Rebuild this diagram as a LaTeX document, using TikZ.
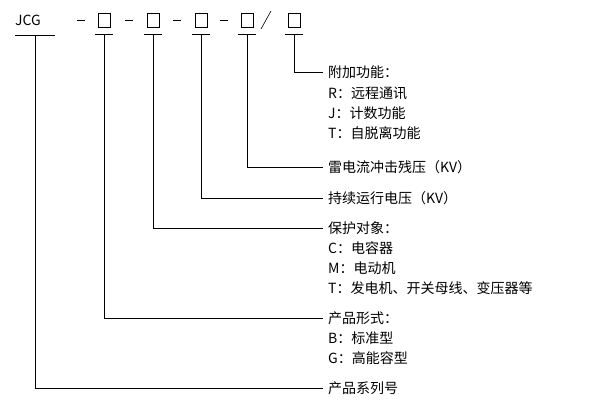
\documentclass[tikz,border=0pt]{standalone}
\usepackage{fontspec}
\setmainfont{Noto Sans CJK SC}
\usetikzlibrary{positioning}
\tikzstyle{codebox}=[rectangle,draw=black,semithick,minimum width=12pt,minimum height=14pt,inner sep=0pt]
\tikzstyle{labeltext}=[anchor=west,inner sep=0pt,font=\fontsize{14}{16}\selectfont]
\tikzstyle{leadline}=[semithick]

\begin{document}
\begin{tikzpicture}[x=1pt,y=-1pt]
    \useasboundingbox (0,0) rectangle (600,415);
    \node[labeltext] (jcg) at (15,20) {JCG};
    \node[codebox] (b1) at (104,20) {};
    \node[codebox] (b2) at (153,20) {};
    \node[codebox] (b3) at (201,20) {};
    \node[codebox] (b4) at (247,20) {};
    \node[codebox] (b5) at (294,20) {};
    \foreach \x in {81,129,177,224} \draw[leadline] (\x-4,20) -- (\x+4,20);
    \draw[leadline] (261,29) -- (271,11);
    % underlines
    \draw[leadline] (15,35) -- (55,35);
    \foreach \n in {b1,b2,b3,b4,b5} \draw[leadline] ([xshift=-3pt,yshift=-7pt]\n.south west) -- ([xshift=3pt,yshift=-7pt]\n.south east);
    % labels
    \node[labeltext] (l5) at (328,72) {附加功能：};
    \node[labeltext] (l5a) at (328,93) {R：远程通讯};
    \node[labeltext] (l5b) at (328,113) {J：计数功能};
    \node[labeltext] (l5c) at (328,133) {T：自脱离功能};
    \node[labeltext] (l4) at (328,167) {雷电流冲击残压（KV）};
    \node[labeltext] (l3) at (328,198) {持续运行电压（KV）};
    \node[labeltext] (l2) at (328,228) {保护对象：};
    \node[labeltext] (l2a) at (328,248) {C：电容器};
    \node[labeltext] (l2b) at (328,268) {M：电动机};
    \node[labeltext] (l2c) at (328,288) {T：发电机、开关母线、变压器等};
    \node[labeltext] (l1) at (328,318) {产品形式：};
    \node[labeltext] (l1a) at (328,338) {B：标准型};
    \node[labeltext] (l1b) at (328,358) {G：高能容型};
    \node[labeltext] (l0) at (328,388) {产品系列号};
    % connectors
    \draw[leadline] (35,35) |- ([xshift=-5pt]l0.west);
    \draw[leadline] ([yshift=-7pt]b1.south) |- ([xshift=-5pt]l1.west);
    \draw[leadline] ([yshift=-7pt]b2.south) |- ([xshift=-5pt]l2.west);
    \draw[leadline] ([yshift=-7pt]b3.south) |- ([xshift=-5pt]l3.west);
    \draw[leadline] ([yshift=-7pt]b4.south) |- ([xshift=-5pt]l4.west);
    \draw[leadline] ([yshift=-7pt]b5.south) |- ([xshift=-5pt]l5.west);
\end{tikzpicture}
\end{document}
